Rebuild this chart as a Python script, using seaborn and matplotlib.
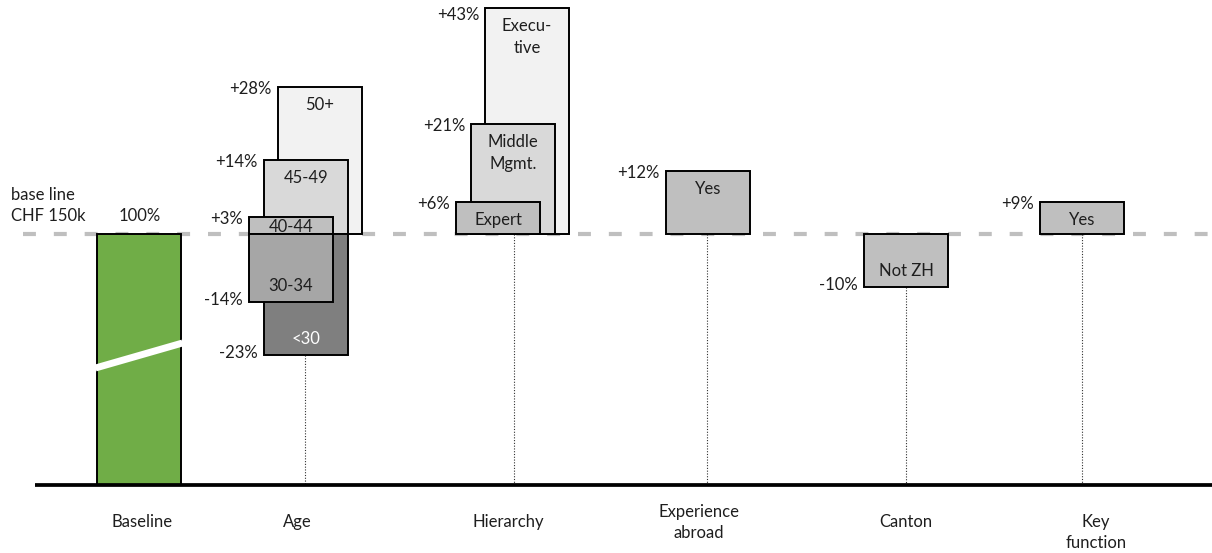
import matplotlib
matplotlib.use("Agg")
import matplotlib.pyplot as plt
import pandas as pd
import seaborn as sns

# --- data -----------------------------------------------------------------
categories = ["Baseline", "Age", "Hierarchy", "Experience\nabroad", "Canton", "Key\nfunction"]

seg_group = ["Age", "Age", "Age", "Age", "Age",
             "Hierarchy", "Hierarchy", "Hierarchy",
             "Experience\nabroad", "Canton", "Key\nfunction"]
seg_name = ["50+", "45-49", "40-44", "<30", "30-34",
            "Execu-\ntive", "Middle\nMgmt.", "Expert",
            "Yes", "Not ZH", "Yes"]
seg_pct = [28, 14, 3, -23, -14, 43, 21, 6, 12, -10, 9]
# extent of each box as drawn in the source (not always equal to its label)
seg_drawn = [28, 14, 3.2, -23, -13, 43, 21, 6, 12, -10, 6]

baseline_pct = 100
baseline_text = "base line\nCHF 150k"

# --- layout ---------------------------------------------------------------
PX = 5.26          # pixels per percentage point
Y0 = 234           # pixel row of the base line
FLOOR = 485        # pixel row of the bottom axis
BOX_W = 84
cat_x = [139, 305, 514, 707, 906, 1082]
label_x = [142, 297, 508, 699, 906, 1096]
label_y = [522, 522, 522, 512, 522, 522]
seg_shift = [15, 1, -14, 1, -14, 13, -1, -16, 1, 0, 0]
seg_shade = ["#F2F2F2", "#D9D9D9", "#BFBFBF", "#7F7F7F", "#A6A6A6",
             "#F2F2F2", "#D9D9D9", "#BFBFBF", "#BFBFBF", "#BFBFBF", "#BFBFBF"]
TXT = "#1E1E1E"
EDGE_LW = 1.4

sns.set_theme(style="white")
plt.rcParams['font.family'] = ['Lato', 'DejaVu Sans']
plt.rcParams['font.size'] = 12


def yd(py):
    """pixel row -> data y"""
    return (Y0 - py) / PX


def put_lines(ax, x, first_py, text, step=21, ha="center", **kw):
    for i, line in enumerate(text.split("\n")):
        ax.text(x, yd(first_py + i * step), line, ha=ha, va="center",
                zorder=10, **kw)


df = pd.DataFrame({"group": seg_group, "name": seg_name, "pct": seg_pct,
                   "drawn": seg_drawn, "shift": seg_shift, "shade": seg_shade})
df["x"] = df["group"].map(dict(zip(categories, cat_x))) + df["shift"]

fig, ax = plt.subplots(figsize=(12.12, 5.53), dpi=100)
fig.subplots_adjust(0, 0, 1, 1)
ax.set_xlim(0, 1212)
ax.set_ylim(yd(553), yd(0))
ax.axis("off")

floor = yd(FLOOR)

# dashed base line
ax.plot([23, 1212], [0, 0], color="#BFBFBF", lw=3, dashes=(3.1, 4.3),
        dash_capstyle="butt", zorder=1.5)

# baseline bar with break mark
ax.bar(cat_x[0], -floor, bottom=floor, width=BOX_W, color="#70AD47",
       edgecolor="black", linewidth=EDGE_LW, zorder=3)
ax.plot([cat_x[0] - 43.5, cat_x[0] + 43.5], [yd(368), yd(343)], color="white",
        lw=5, solid_capstyle="butt", zorder=4)
ax.annotate(f"{baseline_pct}%", xy=(cat_x[0] + 1, 0), xytext=(0, 18 * 0.72),
            textcoords="offset points", ha="center", va="center", color=TXT)
put_lines(ax, 11, 195, baseline_text, step=21, ha="left", color=TXT)

# delta boxes
for i, r in df.iterrows():
    ax.bar(r["x"], r["drawn"], bottom=0, width=BOX_W, color=r["shade"],
           edgecolor="black", linewidth=EDGE_LW, zorder=3 + i * 0.1)
    left = r["x"] - BOX_W / 2
    h_px = abs(r["drawn"]) * PX
    edge_py = Y0 - r["drawn"] * PX
    fg = "white" if r["shade"] == "#7F7F7F" else TXT
    if r["drawn"] > 0:
        off = min(18, 0.58 * h_px)
        put_lines(ax, r["x"], edge_py + off, r["name"], step=22, color=fg)
        pct_py = max(edge_py + 2, 15)
    else:
        put_lines(ax, r["x"], edge_py - 16, r["name"], step=22, color=fg)
        pct_py = edge_py - 2
    ax.text(left - 6, yd(pct_py), f"{r['pct']:+d}%", ha="right", va="center",
            color=TXT, zorder=10)

# dotted leaders down to the axis
for cat, x in zip(categories[1:], cat_x[1:]):
    low = min(0, df.loc[df["group"] == cat, "drawn"].min())
    ax.plot([x, x], [low, floor], color="#303030", lw=0.8,
            ls=(0, (1, 1.5)), zorder=2)

# bottom axis
ax.plot([35, 1212], [floor, floor], color="black", lw=2.7,
        solid_capstyle="butt", zorder=6)

# category labels
for cat, x, py in zip(categories, label_x, label_y):
    put_lines(ax, x, py, cat, step=21, color=TXT)

sns.despine(ax=ax, left=True, bottom=True)
fig.savefig("out.png", dpi=100)
